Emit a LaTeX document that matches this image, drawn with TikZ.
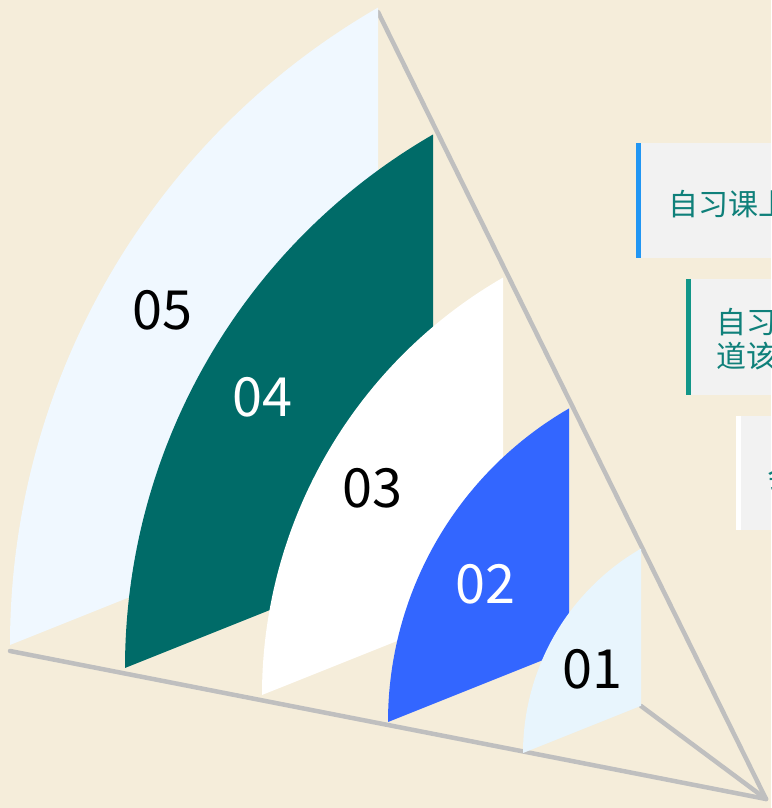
\documentclass[tikz,border=0pt]{standalone}
\usepackage{fontspec}
\setmainfont{Noto Sans CJK SC}
\definecolor{bgbeige}{HTML}{F5EDDA}
\definecolor{linegray}{HTML}{BFBFBF}
\definecolor{sailfive}{HTML}{F0F8FF}
\definecolor{sailfour}{HTML}{006B68}
\definecolor{sailtwo}{HTML}{3366FF}
\definecolor{sailone}{HTML}{E8F5FD}
\definecolor{boxgray}{HTML}{F2F2F2}
\definecolor{textteal}{HTML}{0F807A}
\definecolor{barblue}{HTML}{2196F3}
\definecolor{barteal}{HTML}{129688}
\tikzset{
  numlabel/.style={font=\fontsize{54}{54}\selectfont,inner sep=0pt},
  boxtext/.style={font=\fontsize{30}{34}\selectfont,text=textteal,inner sep=0pt,align=left},
  guide/.style={linegray,line width=4.5pt,line cap=round}
}

\begin{document}
\begin{tikzpicture}[x=1pt,y=1pt]
            \useasboundingbox (0,0) rectangle (771,808);
            \clip (0,0) rectangle (771,808);
            \fill[bgbeige] (0,0) rectangle (771,808);

            \coordinate (apex) at (766,9);
            \coordinate (topend) at (378,796);
            \coordinate (baseend) at (10,157);
            \coordinate (innerend) at (641,102);
            \draw[guide] (topend)--(apex);
            \draw[guide] (baseend)--(apex);
            \draw[guide] (innerend)--(apex);

            \foreach \x/\y/\r/\c in {10/163/736/sailfive,125/140/616/sailfour,262/113/482/white,388/86/362/sailtwo,523/55/236/sailone}{
                \fill[\c] (\x,\y) arc[start angle=180,end angle=120,radius=\r] -- (\x+0.5*\r,\y+0.2*\r) -- cycle;
            }
            \foreach \n/\x/\y/\tc in {05/162/498/black,04/262/411/white,03/372/320/black,02/485/224/white,01/592/139/black}{
                \node[numlabel,text=\tc] (lab\n) at (\x,\y) {\n};
            }

            \fill[boxgray] (641,550) rectangle (771,665);
            \fill[barblue] (636,550) rectangle (641,665);
            \node[boxtext,right] (note1) at (668,604) {自习课上};

            \fill[boxgray] (691,413) rectangle (771,529);
            \fill[barteal] (686,413) rectangle (691,529);
            \node[boxtext,right] (note2) at (716,469) {自习\\道该};

            \fill[boxgray] (741,278) rectangle (771,392);
            \fill[white] (736,278) rectangle (741,392);
            \node[boxtext,right] (note3) at (767,331) {会};
        \end{tikzpicture}
\end{document}
